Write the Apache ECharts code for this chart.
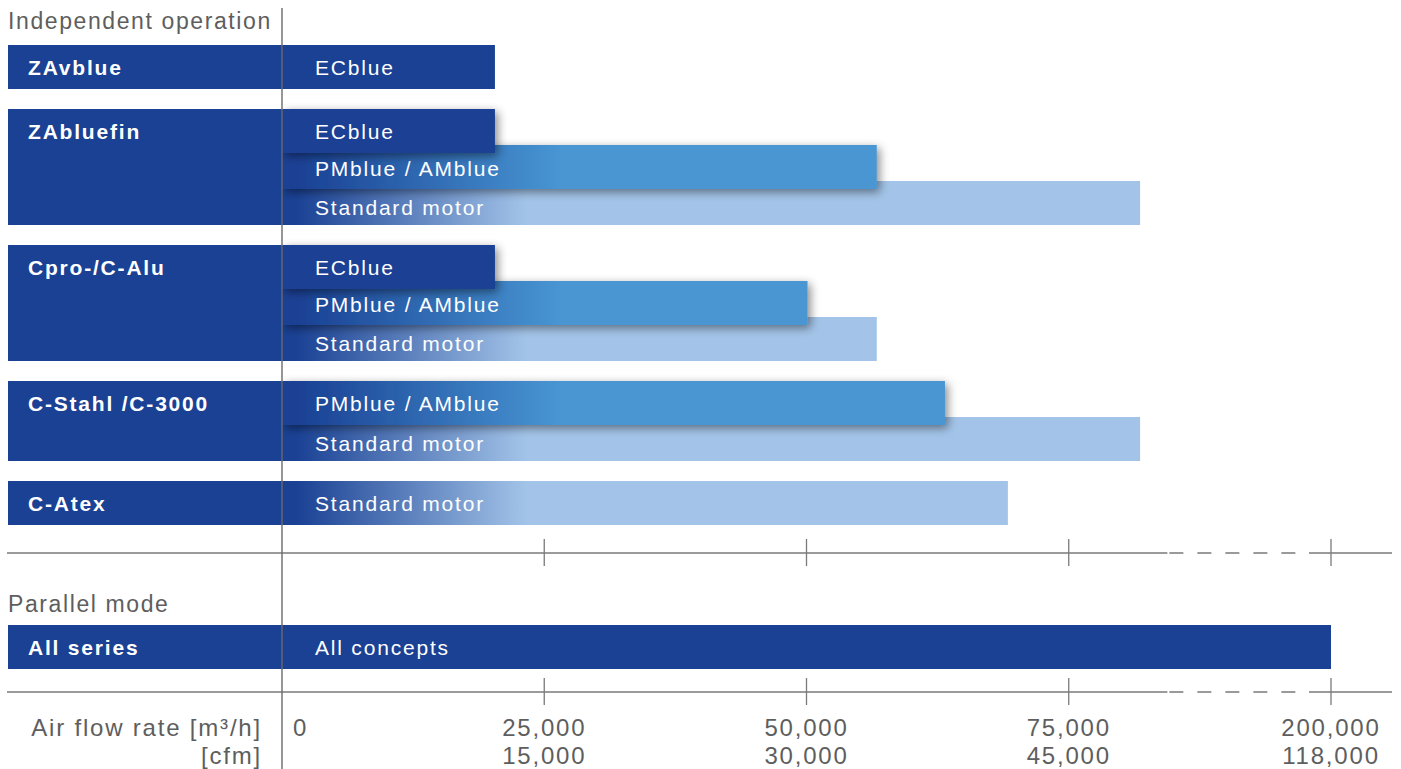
<!DOCTYPE html>
<html>
<head>
<meta charset="utf-8">
<script src="https://cdn.jsdelivr.net/npm/echarts@6/dist/echarts.min.js"></script>
<style>
html, body { margin: 0; padding: 0; background: #fff; }
#main { width: 1401px; height: 769px; }
#main svg text { letter-spacing: 1.8px; }
#main svg text[style*="23px"] { letter-spacing: 1.6px; }
</style>
</head>
<body>
<div id="main"></div>
<script>
// ---------------- data ----------------
const groups = ['ZAvblue', 'ZAbluefin', 'Cpro-/C-Alu', 'C-Stahl /C-3000', 'C-Atex'];
const motorTypes = ['ECblue', 'PMblue / AMblue', 'Standard motor'];
const ecblue   = [20300, 20300, 20300, null, null];
const pmblue   = [null, 56700, 50100, 63200, null];
const standard = [null, 81800, 56700, 81800, 69200];
const parallelGroups = ['All series'];
const parallelConcepts = ['All concepts'];
const parallelValues = [200000];
const tickValues = [0, 25000, 50000, 75000, 200000];
const tickLabelsM3h = ['0', '25,000', '50,000', '75,000', '200,000'];
const tickLabelsCfm = ['', '15,000', '30,000', '45,000', '118,000'];
const sectionTitles = ['Independent operation', 'Parallel mode'];
const axisTitles = ['Air flow rate [m³/h]', '[cfm]'];

// ---------------- layout & style ----------------
const FONT = '"Liberation Sans", Arial, Helvetica, sans-serif';
const DARK = '#1a4194', MID = '#4896d3', LIGHT = '#a3c4e8';
const TEXT_GRAY = '#5e5e5e', LINE_GRAY = '#7a7a7a';
const barColors = [DARK, MID, LIGHT, DARK];
const gradWidth = [0, 280, 245, 0];
const TOP0 = 45, BAR_H = 44, STEP = 36, GAP = 20;
const AXIS_Y = [553, 692];
const TITLE_Y = [21, 604];
const PAR_TOP = 625;
const LAB_Y = [727, 755];
const BOX_LEFT = 8, LINE_RIGHT = 1392, LABEL_PAD = 33, GROUP_LABEL_X = 28;
// broken axis: values above the break are shifted down to their drawn position
const BREAK_SHIFT = 100000;
const DASH_FROM = 84400, DASH_TO = 97900;
function toAxis(v) { return v > BREAK_SHIFT ? v - BREAK_SHIFT : v; }

// ---------------- build rows ----------------
const barRows = [];   // [axisValue, top, typeIndex, k, n]
const barLabels = [];
const boxRows = [];   // [top, height]
const boxLabels = [];
let curTop = TOP0;
groups.forEach((g, gi) => {
  const vals = [ecblue[gi], pmblue[gi], standard[gi]];
  const present = [0, 1, 2].filter(t => vals[t] != null);
  const n = present.length;
  const rows = present.map((t, k) => ({ r: [toAxis(vals[t]), curTop + k * STEP, t, k, n], l: motorTypes[t] }));
  rows.reverse().forEach(o => { barRows.push(o.r); barLabels.push(o.l); });
  const h = BAR_H + (n - 1) * STEP;
  boxRows.push([curTop, h]); boxLabels.push(g);
  curTop += h + GAP;
});
parallelGroups.forEach((g, i) => {
  barRows.push([toAxis(parallelValues[i]), PAR_TOP + i * (BAR_H + GAP), 3, 0, 1]);
  barLabels.push(parallelConcepts[i]);
  boxRows.push([PAR_TOP + i * (BAR_H + GAP), BAR_H]); boxLabels.push(g);
});

function renderBar(params, api) {
  const row = barRows[params.dataIndex];
  const v = row[0], t0 = row[1], t = row[2], k = row[3], n = row[4];
  const a = api.coord([0, t0]);
  const b = api.coord([v, t0 + BAR_H]);
  let fill = barColors[t];
  if (gradWidth[t] > 0) {
    fill = new echarts.graphic.LinearGradient(a[0], 0, a[0] + gradWidth[t], 0, [
      { offset: 0, color: DARK }, { offset: 0.06, color: DARK }, { offset: 1, color: barColors[t] }
    ], true);
  }
  const style = { fill: fill };
  if (k < n - 1) {
    style.shadowBlur = 10; style.shadowColor = 'rgba(0,0,0,0.45)';
    style.shadowOffsetX = 3; style.shadowOffsetY = 3;
  }
  const dy = k === 0 ? 22 : (k === n - 1 ? 26 : 23);
  return { type: 'group', children: [
    { type: 'rect', shape: { x: a[0], y: a[1], width: b[0] - a[0], height: b[1] - a[1] }, style: style },
    { type: 'text', style: { text: barLabels[params.dataIndex], x: a[0] + LABEL_PAD, y: a[1] + dy,
      fill: '#fff', fontSize: 21, fontFamily: FONT, align: 'left', verticalAlign: 'middle' } }
  ]};
}

function renderBox(params, api) {
  const row = boxRows[params.dataIndex];
  const a = api.coord([0, row[0]]);
  const b = api.coord([0, row[0] + row[1]]);
  return { type: 'group', children: [
    { type: 'rect', shape: { x: BOX_LEFT, y: a[1], width: a[0] - BOX_LEFT, height: b[1] - a[1] }, style: { fill: DARK } },
    { type: 'text', style: { text: boxLabels[params.dataIndex], x: GROUP_LABEL_X, y: a[1] + 22,
      fill: '#fff', fontSize: 21, fontWeight: 'bold', fontFamily: FONT, align: 'left', verticalAlign: 'middle' } }
  ]};
}

function renderDecor(params, api) {
  const children = [];
  const x0 = api.coord([0, 0])[0];
  const xf = api.coord([DASH_FROM, 0])[0];
  const xt = api.coord([DASH_TO, 0])[0];
  const lineStyle = { stroke: LINE_GRAY, lineWidth: 1.3 };
  AXIS_Y.forEach(y => {
    children.push({ type: 'line', shape: { x1: BOX_LEFT - 1, y1: y, x2: xf, y2: y }, style: lineStyle });
    children.push({ type: 'line', shape: { x1: xf + 2, y1: y, x2: xt, y2: y },
      style: { stroke: LINE_GRAY, lineWidth: 1.3, lineDash: [14, 14] } });
    children.push({ type: 'line', shape: { x1: xt, y1: y, x2: LINE_RIGHT, y2: y }, style: lineStyle });
    tickValues.forEach((tv, i) => {
      if (i === 0) return;
      const x = api.coord([toAxis(tv), 0])[0];
      children.push({ type: 'line', shape: { x1: x, y1: y - 14, x2: x, y2: y + 13 }, style: lineStyle });
    });
  });
  // zero line
  children.push({ type: 'line', shape: { x1: x0, y1: 8, x2: x0, y2: 769 }, style: { stroke: '#6a6a6a', lineWidth: 1.4 } });
  // tick labels
  tickValues.forEach((tv, i) => {
    const x = api.coord([toAxis(tv), 0])[0];
    const first = i === 0;
    [tickLabelsM3h[i], tickLabelsCfm[i]].forEach((txt, j) => {
      if (!txt) return;
      children.push({ type: 'text', style: { text: txt, x: first ? x + 11 : x, y: LAB_Y[j],
        fill: TEXT_GRAY, fontSize: 24, fontFamily: FONT, align: first ? 'left' : 'center', verticalAlign: 'middle' } });
    });
  });
  axisTitles.forEach((txt, j) => {
    children.push({ type: 'text', style: { text: txt, x: 262, y: LAB_Y[j],
      fill: TEXT_GRAY, fontSize: 24, fontFamily: FONT, align: 'right', verticalAlign: 'middle' } });
  });
  sectionTitles.forEach((txt, j) => {
    children.push({ type: 'text', style: { text: txt, x: BOX_LEFT, y: TITLE_Y[j],
      fill: TEXT_GRAY, fontSize: 23, fontFamily: FONT, align: 'left', verticalAlign: 'middle' } });
  });
  return { type: 'group', children: children };
}

const chart = echarts.init(document.getElementById('main'), null, { renderer: 'svg' });
chart.setOption({
  animation: false,
  grid: { left: 282, right: 70, top: 0, bottom: 0 },
  xAxis: { type: 'value', min: 0, max: 100000, interval: 25000, show: false },
  yAxis: { type: 'value', min: 0, max: 769, inverse: true, show: false },
  series: [
    { type: 'custom', z: 2, renderItem: renderBar, data: barRows.map(r => r.slice()), clip: false },
    { type: 'custom', z: 3, renderItem: renderBox, data: boxRows.map(r => [0, r[0], r[1]]), clip: false },
    { type: 'custom', z: 4, renderItem: renderDecor, data: [[0, 0]], clip: false }
  ]
});
</script>
</body>
</html>
